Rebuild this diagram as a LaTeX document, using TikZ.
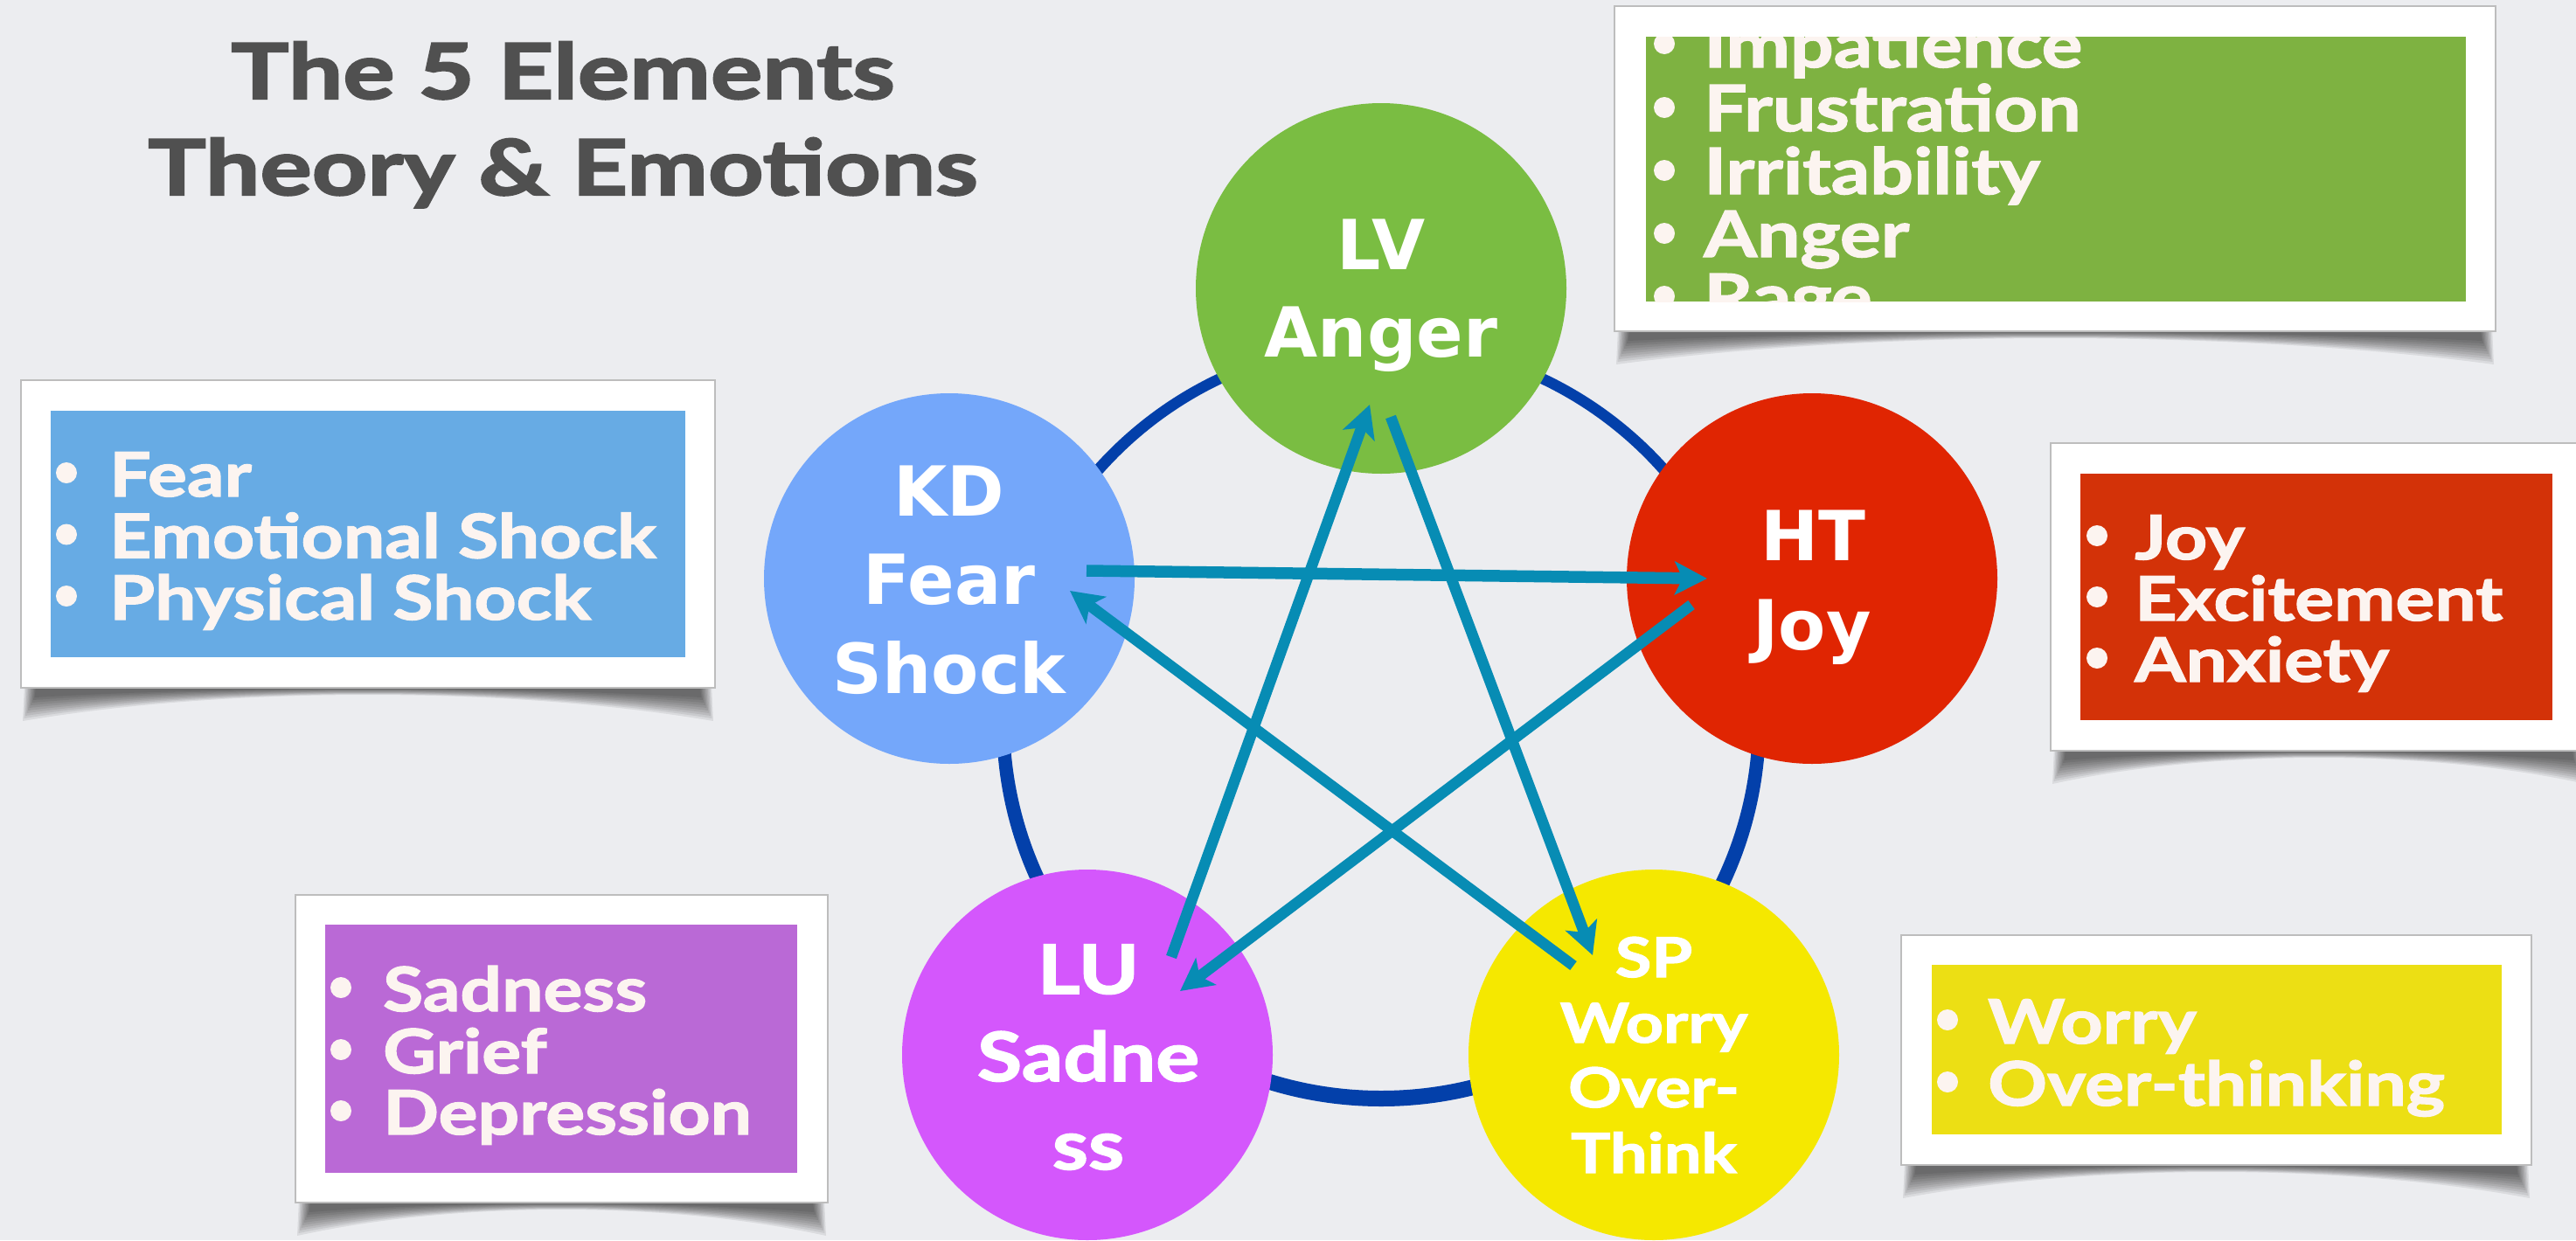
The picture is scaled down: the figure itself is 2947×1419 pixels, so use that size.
\documentclass[tikz,border=0pt]{standalone}
\usepackage{fontspec}
\setmainfont{Lato}
\newfontfamily\circfont{DejaVu Sans}
\newfontfamily\gill{Lato}[FakeStretch=1.2, BoldFeatures={FakeBold=2}]
\newfontfamily\gilltitle{Lato}[FakeStretch=1.26, BoldFeatures={FakeBold=2.5}]
\usetikzlibrary{arrows.meta}

\definecolor{bgc}{HTML}{ECEDF0}
\definecolor{titlec}{HTML}{505050}
\definecolor{ringc}{HTML}{0340AA}
\definecolor{arrowc}{HTML}{078CB4}
\definecolor{itemc}{HTML}{FCF4F0}
\definecolor{cardedge}{HTML}{BDBDBD}
% element discs
\definecolor{lvc}{HTML}{7ABD42}
\definecolor{kdc}{HTML}{74A7FA}
\definecolor{htc}{HTML}{E02502}
\definecolor{luc}{HTML}{D457FC}
\definecolor{spc}{HTML}{F5E800}
% list panels
\definecolor{lvbox}{HTML}{7EB241}
\definecolor{kdbox}{HTML}{67ABE4}
\definecolor{htbox}{HTML}{D33208}
\definecolor{lubox}{HTML}{BA69D6}
\definecolor{spbox}{HTML}{ECDF14}

\newcommand{\fsz}[1]{\fontsize{#1}{#1}\selectfont}

% soft curled shadow under a card: left x, right x, bottom y
\newcommand{\cardshadow}[3]{%
  \foreach \k in {0,...,9}{%
    \fill[black, opacity=0.075]
      ({#1+4+\k*1.5}, {#3-4}) -- ({#1+2+\k*1.5}, {#3+38-3*\k})
      .. controls ({#1+0.3*(#2-#1)}, {#3-2}) and ({#2-0.3*(#2-#1)}, {#3-2}) ..
      ({#2-2-\k*1.5}, {#3+38-3*\k}) -- ({#2-4-\k*1.5}, {#3-4}) -- cycle;
  }}

% one bulleted line: bullet x, text x, baseline y, name, text
\newcommand{\listline}[5]{%
  \fill[itemc] ({#1+12}, {#3-27}) circle[radius=12];
  \node[item] (#4) at (#2,#3) {#5};
}

\begin{document}
\begin{tikzpicture}[x=1pt, y=-1pt,
  disc/.style={circle, inner sep=0pt, minimum size=424pt},
  link/.style={draw=arrowc, line width=12.5pt,
    -{Stealth[length=37pt, width=38pt, inset=9pt]}},
  card/.style={fill=white, draw=cardedge, line width=1.5pt},
  item/.style={anchor=base west, inner sep=0pt, text=itemc,
    font=\gill\bfseries\fsz{70}},
  ctext/.style={anchor=base, inner sep=0pt, text=white,
    font=\circfont\bfseries\fsz{79}},
  gtext/.style={anchor=base, inner sep=0pt, text=white,
    font=\gill\bfseries\fsz{78}}
]
\useasboundingbox (0,0) rectangle (2947,1419);
\fill[bgc] (0,0) rectangle (2947,1419);

% title
\node[anchor=base, inner sep=0pt, text=titlec, font=\gilltitle\bfseries\fsz{88}]
  (title1) at (644,113) {The 5 Elements};
\node[anchor=base, inner sep=0pt, text=titlec, font=\gilltitle\bfseries\fsz{88}]
  (title2) at (644,223) {Theory \& Emotions};

% cards with their lists
\cardshadow{24}{818}{787}
\fill[card] (24,435) rectangle (818,787);
\fill[kdbox] (58,470) rectangle (784,752);
\listline{64}{125}{568}{kd-1}{Fear}
\listline{64}{125}{638.5}{kd-2}{Emotional Shock}
\listline{64}{125}{709}{kd-3}{Physical Shock}

\cardshadow{2346}{2960}{859}
\fill[card] (2346,507) rectangle (2960,859);
\fill[htbox] (2380,542) rectangle (2920,824);
\listline{2387}{2442}{640}{ht-1}{Joy}
\listline{2387}{2442}{710}{ht-2}{Excitement}
\listline{2387}{2442}{780}{ht-3}{Anxiety}

\cardshadow{338}{947}{1376}
\fill[card] (338,1024) rectangle (947,1376);
\fill[lubox] (372,1058) rectangle (912,1342);
\listline{378}{438}{1157}{lu-1}{Sadness}
\listline{378}{438}{1228}{lu-2}{Grief}
\listline{378}{438}{1298}{lu-3}{Depression}

\cardshadow{2175}{2896}{1333}
\fill[card] (2175,1070) rectangle (2896,1333);
\fill[spbox] (2210,1104) rectangle (2862,1298);
\listline{2216}{2274}{1194}{sp-1}{Worry}
\listline{2216}{2274}{1265}{sp-2}{Over-thinking}

\cardshadow{1847}{2855}{379}
\fill[card] (1847,7) rectangle (2855,379);
\fill[lvbox] (1883,42) rectangle (2821,345);
\begin{scope}
  \clip (1883,42) rectangle (2821,345);
  \tikzset{item/.append style={font=\gill\bfseries\fsz{73}}}
  \listline{1892}{1949}{77}{lv-1}{Impatience}
  \listline{1892}{1949}{150}{lv-2}{Frustration}
  \listline{1892}{1949}{222}{lv-3}{Irritability}
  \listline{1892}{1949}{294}{lv-4}{Anger}
  \listline{1892}{1949}{366}{lv-5}{Rage}
\end{scope}

% ring behind the elements (slightly heavier at the bottom)
\fill[ringc, even odd rule] (1580,826) circle[radius=440] (1580,823) circle[radius=425];

% elements
\node[disc, fill=lvc] (LV) at (1580,330) {};
\node[disc, fill=kdc] (KD) at (1086,662) {};
\node[disc, fill=htc] (HT) at (2073,662) {};
\node[disc, fill=luc] (LU) at (1244,1207) {};
\node[disc, fill=spc] (SP) at (1892,1207) {};

% cycle arrows
\draw[link, line width=13.5pt] ([shift={(157,-9)}]KD.center) -- ([shift={(-120,0)}]HT.center);
\draw[link] ([shift={(96,-112)}]LU.center) -- ([shift={(-13,133)}]LV.center);
\draw[link] ([shift={(11,147)}]LV.center) -- ([shift={(-70,-114)}]SP.center);
\draw[link] ([shift={(-138,30)}]HT.center) -- ([shift={(106,-73)}]LU.center);
\draw[link] ([shift={(-92,-102)}]SP.center) -- ([shift={(138,14)}]KD.center);

% element labels
\node[ctext] (LV-a) at (1580,308) {LV};
\node[ctext] (LV-b) at (1580,408) {Anger};
\node[ctext] (KD-a) at (1086,590) {KD};
\node[ctext] (KD-b) at (1086,691) {Fear};
\node[ctext] (KD-c) at (1086,793) {Shock};
\node[ctext] (HT-a) at (2074,641) {HT};
\node[ctext] (HT-b) at (2073,743) {Joy};
\node[gtext] (LU-a) at (1245,1137) {LU};
\node[gtext] (LU-b) at (1245,1237) {Sadne};
\node[gtext] (LU-c) at (1245,1338) {ss};
\node[gtext, font=\gill\bfseries\fsz{63}] (SP-a) at (1892,1118) {SP};
\node[gtext, font=\gill\bfseries\fsz{63}] (SP-b) at (1892,1193) {Worry};
\node[gtext, font=\gill\bfseries\fsz{63}] (SP-c) at (1892,1267) {Over-};
\node[gtext, font=\gill\bfseries\fsz{63}] (SP-d) at (1892,1342) {Think};
\end{tikzpicture}
\end{document}
